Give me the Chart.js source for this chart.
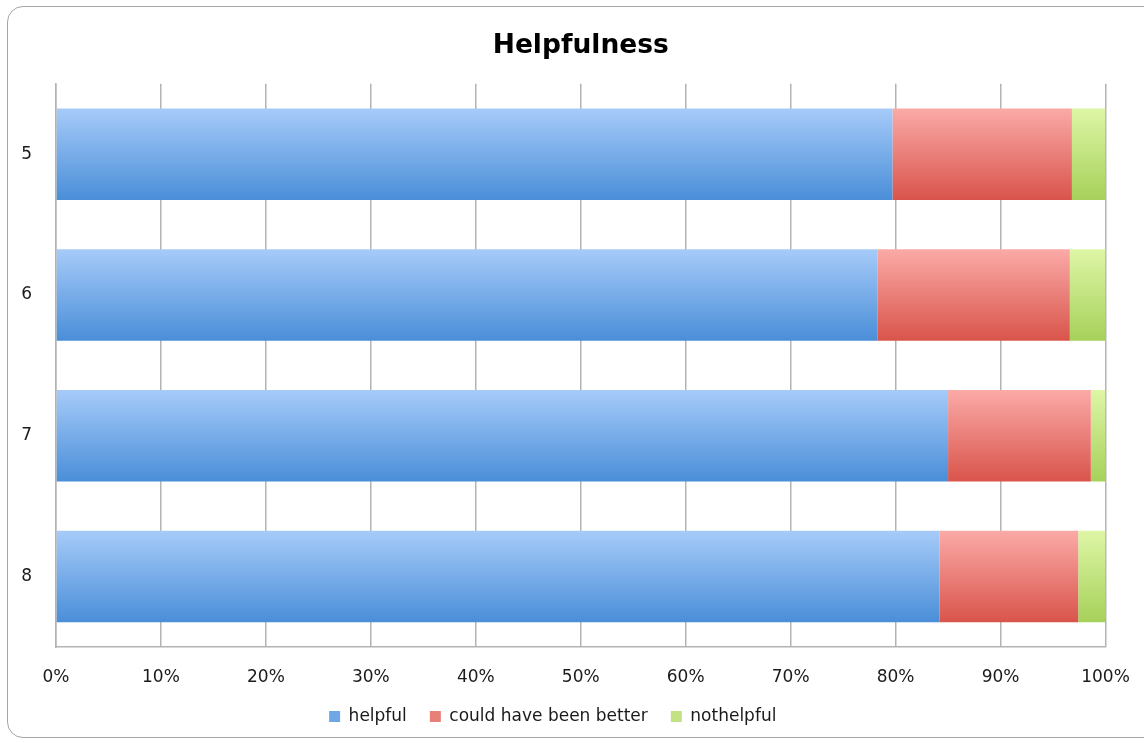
<!DOCTYPE html>
<html>
<head>
<meta charset="utf-8">
<script src="https://cdn.jsdelivr.net/npm/chart.js@4/dist/chart.umd.min.js"></script>
<style>
  html, body { margin: 0; padding: 0; background: #fff; }
  #wrap { position: relative; width: 1144px; height: 743px; overflow: hidden; }
  #frame { position: absolute; left: 7px; top: 6px; width: 1160px; height: 732px;
           border: 1.5px solid #a6a6a6; border-radius: 16px; box-sizing: border-box; }
  canvas { position: absolute; left: 0; top: 0; }
</style>
</head>
<body>
<div id="wrap">
  <div id="frame"></div>
  <canvas id="c" width="1144" height="743"></canvas>
</div>
<script>
const categories = ['5', '6', '7', '8'];
const helpful = [79.7, 78.3, 85.0, 84.2];
const couldHaveBeenBetter = [17.1, 18.3, 13.6, 13.2];
const notHelpful = [3.2, 3.4, 1.4, 2.6];
const tickLabels = ['0%', '10%', '20%', '30%', '40%', '50%', '60%', '70%', '80%', '90%', '100%'];

const palettes = {
  helpful: ['#a6cbf9', '#4a8ed8', '#6fa6e6'],
  better: ['#fbaaa7', '#d9544b', '#e8807a'],
  not: ['#def6a6', '#a6d15a', '#c2e283']
};

function barGradient(pal) {
  return function (ctx) {
    const chart = ctx.chart;
    if (ctx.dataIndex === undefined || !chart.chartArea) return pal[2];
    const y = chart.scales.y;
    const c = y.getPixelForValue(ctx.dataIndex);
    const half = (y.height / categories.length) * 0.65 / 2;
    const g = chart.ctx.createLinearGradient(0, c - half, 0, c + half);
    g.addColorStop(0, pal[0]);
    g.addColorStop(1, pal[1]);
    return g;
  };
}

const font = 'DejaVu Sans';

new Chart(document.getElementById('c'), {
  type: 'bar',
  data: {
    labels: categories,
    datasets: [
      { label: 'helpful', data: helpful, backgroundColor: barGradient(palettes.helpful), legendColor: palettes.helpful[2] },
      { label: 'could have been better', data: couldHaveBeenBetter, backgroundColor: barGradient(palettes.better), legendColor: palettes.better[2] },
      { label: 'nothelpful', data: notHelpful, backgroundColor: barGradient(palettes.not), legendColor: palettes.not[2] }
    ]
  },
  options: {
    indexAxis: 'y',
    responsive: false,
    animation: false,
    devicePixelRatio: 1,
    categoryPercentage: 0.65,
    barPercentage: 1.0,
    layout: { padding: { left: 0, right: 38.5, top: 0, bottom: 8 } },
    scales: {
      x: {
        stacked: true,
        min: 0, max: 100,
        afterFit: (s) => { s.height = 38; },
        ticks: {
          stepSize: 10,
          padding: 0,
          color: '#1a1a1a',
          font: { family: font, size: 17 },
          callback: (v, i) => tickLabels[i]
        },
        grid: { color: '#b3b3b3', lineWidth: 1.5, drawTicks: true, tickLength: 20, tickColor: 'rgba(0,0,0,0)' },
        border: { color: '#b3b3b3', width: 1.5 }
      },
      y: {
        stacked: true,
        afterFit: (s) => { s.width = 56; },
        ticks: { padding: 24, color: '#1a1a1a', font: { family: font, size: 17 } },
        grid: { display: false, drawTicks: false },
        border: { color: '#b3b3b3', width: 1.5 }
      }
    },
    plugins: {
      title: {
        display: true,
        fullSize: false,
        text: 'Helpfulness',
        color: '#000',
        font: { family: font, size: 26.5, weight: 'bold' },
        padding: { top: 30, bottom: 22 }
      },
      legend: {
        position: 'bottom',
        labels: {
          color: '#1a1a1a',
          font: { family: font, size: 17 },
          boxWidth: 11,
          boxHeight: 11,
          padding: 23,
          generateLabels: (chart) => chart.data.datasets.map((d, i) => ({
            text: d.label,
            fillStyle: d.legendColor,
            strokeStyle: d.legendColor,
            lineWidth: 0,
            datasetIndex: i,
            fontColor: '#1a1a1a'
          }))
        }
      },
      tooltip: { enabled: false }
    }
  }
});
</script>
</body>
</html>
